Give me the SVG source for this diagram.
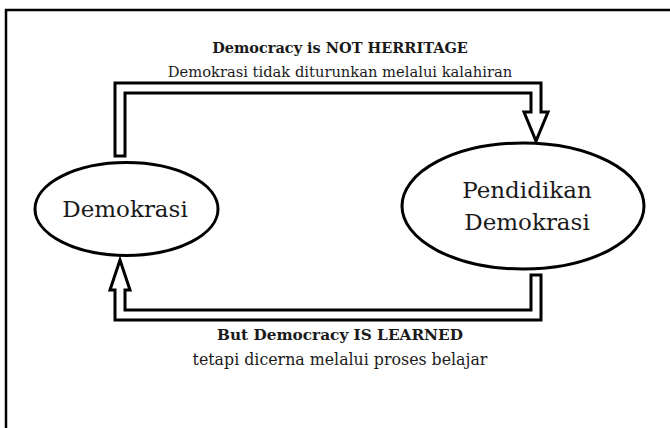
<svg xmlns="http://www.w3.org/2000/svg" width="670" height="428" viewBox="0 0 670 428">
<style>
.frame{fill:none;stroke:#000;stroke-width:2.5}
.node{fill:#fff;stroke:#000;stroke-width:3}
.arrow{fill:#fff;stroke:#000;stroke-width:3;stroke-linejoin:miter}
.lbl{font-family:"DejaVu Serif","Liberation Serif",serif;fill:#1a1a1a;text-anchor:middle}
.bold{font-weight:bold;font-size:14.5px}
.sub{font-size:14.7px}
.bold2{font-weight:bold;font-size:15.3px}
.sub2{font-size:15.8px}
.nt{font-size:23px}
</style>
<rect class="frame" x="6" y="10" width="700" height="500"/>
<g id="connectors">
<path class="arrow" d="M115,156 V83 H541 V112 H548 L536,141 L524,112 H531 V93 H125 V156 Z"/>
<path class="arrow" d="M541,275 V320 H115 V290 H110 L120,260 L130,290 H125 V310 H531 V275 Z"/>
</g>
<g id="label-top">
<text class="lbl bold" x="340" y="53">Democracy is NOT HERRITAGE</text>
<text class="lbl sub" x="340" y="77">Demokrasi tidak diturunkan melalui kalahiran</text>
</g>
<g id="label-bottom">
<text class="lbl bold2" x="340" y="340">But Democracy IS LEARNED</text>
<text class="lbl sub2" x="340" y="365">tetapi dicerna melalui proses belajar</text>
</g>
<g id="node-demokrasi">
<ellipse class="node" cx="126.5" cy="209" rx="91.5" ry="46.5"/>
<text class="lbl nt" x="125" y="217">Demokrasi</text>
</g>
<g id="node-pendidikan">
<ellipse class="node" cx="523" cy="206" rx="121" ry="63"/>
<text class="lbl nt" x="527" y="198">Pendidikan</text>
<text class="lbl nt" x="527" y="230">Demokrasi</text>
</g>
</svg>
